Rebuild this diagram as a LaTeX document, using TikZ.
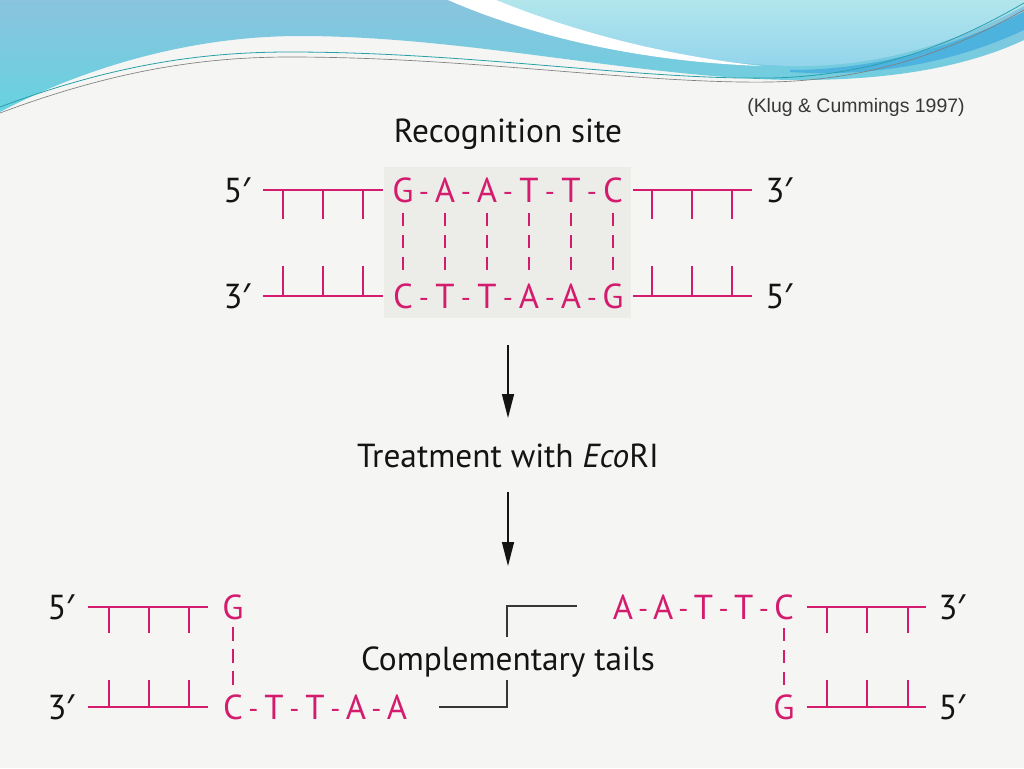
\documentclass[tikz,border=0pt]{standalone}
\usepackage{fontspec}
\setmainfont{PT Sans}
\newfontfamily\primefont{Noto Sans}
\newfontfamily\klugfont{Liberation Sans}
\usetikzlibrary{arrows.meta}
\definecolor{mag}{RGB}{212,28,110}
\definecolor{boxgray}{RGB}{236,236,232}
\definecolor{bgc}{RGB}{245,245,244}
\definecolor{waveA}{RGB}{138,196,222}
\definecolor{waveB}{RGB}{102,210,224}
\definecolor{aquaA}{RGB}{178,230,236}
\definecolor{aquaB}{RGB}{146,212,236}
\definecolor{bandc}{RGB}{78,178,222}
\definecolor{linec}{RGB}{40,160,170}
\definecolor{txt}{RGB}{20,20,20}
\newcommand{\pr}{{\primefont ′}}
\newlength{\basew}
\newcommand{\bs}[1]{\makebox[\basew]{#1}}
\newcommand{\hyp}{\makebox[9.1pt]{\fontsize{21}{21}\selectfont\raisebox{0.6pt}{-}}}
\tikzset{
  seq/.style={font=\fontsize{26}{26}\selectfont, text=mag, inner sep=0pt, text height=18pt, text depth=0pt},
  endlab/.style={font=\fontsize{26}{26}\selectfont, text=txt, inner sep=0pt, text height=18pt, text depth=0pt},
  label/.style={font=\fontsize{25}{25}\selectfont, text=txt, inner sep=0pt, anchor=base},
  strand/.style={draw=mag, line width=1.5pt},
  pair/.style={draw=mag, line width=1.6pt, dash pattern=on 10pt off 6.5pt},
  arr/.style={draw=txt, line width=1.1pt, -{Triangle[length=18pt,width=9pt]}},
  brk/.style={draw=txt!85, line width=0.9pt},
}
\begin{document}
\begin{tikzpicture}[x=0.75pt,y=-0.75pt]
\useasboundingbox (0,0) rectangle (1024,768);
\fill[bgc] (0,0) rectangle (1024,768);

% ---- top wave decoration ----
\shade[top color=waveA, bottom color=waveB]
  (0,0) -- (1024,0) -- (1024,40) .. controls (960,70) and (880,80) .. (800,80)
  .. controls (650,80) and (470,36) .. (300,36)
  .. controls (170,36) and (60,80) .. (0,112) -- cycle;
\shade[top color=aquaA, bottom color=aquaB]
  (492,0) .. controls (580,40) and (680,62) .. (790,66)
  .. controls (890,68) and (970,35) .. (1024,6) -- (1024,0) -- cycle;
\fill[white]
  (448,0) .. controls (540,40) and (650,62) .. (762,66)
  .. controls (660,55) and (570,30) .. (496,0) -- cycle;
\fill[bandc]
  (790,70) .. controls (890,70) and (970,38) .. (1024,12)
  -- (1024,30) .. controls (960,60) and (880,78) .. (790,72) -- cycle;
\draw[linec, line width=0.6pt]
  (0,107) .. controls (120,62) and (210,52) .. (290,52)
  .. controls (470,52) and (640,80) .. (770,78)
  .. controls (880,76) and (960,40) .. (1024,3);
\draw[gray, line width=0.5pt]
  (0,113) .. controls (120,68) and (210,57) .. (290,57)
  .. controls (470,57) and (640,84) .. (770,82)
  .. controls (880,80) and (960,46) .. (1024,10);

% ---- citation ----
\node[font=\klugfont\fontsize{14.6}{14.6}\selectfont, text=txt!85, inner sep=0pt, anchor=base] (cite) at (856,112) {(Klug \& Cummings 1997)};

% ---- recognition site ----
\node[label] (recog) at (508,142) {Recognition site};
\fill[boxgray] (384,167) rectangle (631,318);

\node[endlab] (l5) at (237,190) {5\pr};
\node[endlab] (l3) at (237,296) {3\pr};
\node[endlab] (r3) at (779,190) {3\pr};
\node[endlab] (r5) at (779,296) {5\pr};

\setlength{\basew}{22.4pt}
\node[seq] (toprow) at (508,190) {\bs{G}\hyp\bs{A}\hyp\bs{A}\hyp\bs{T}\hyp\bs{T}\hyp\bs{C}};
\node[seq] (botrow) at (508,296) {\bs{C}\hyp\bs{T}\hyp\bs{T}\hyp\bs{A}\hyp\bs{A}\hyp\bs{G}};
\foreach \i/\x in {1/403,2/445,3/487,4/529,5/571,6/613}{
  \coordinate (pu\i) at (\x,213);
  \coordinate (pd\i) at (\x,274);
  \draw[pair] (pu\i) -- (pd\i);
}
% backbones
\draw[strand] (263,190) -- (383,190);
\draw[strand] (263,296) -- (383,296);
\draw[strand] (633,190) -- (752,190);
\draw[strand] (633,296) -- (752,296);
\foreach \x in {283,323,363,652,692,732}{
  \draw[strand] (\x,190) -- (\x,219);
  \draw[strand] (\x,296) -- (\x,266);
}

% ---- arrows and treatment ----
\coordinate (a1s) at (508,345);
\coordinate (a1e) at (508,418);
\draw[arr] (a1s) -- (a1e);
\node[label] (treat) at (508,467) {Treatment with \textit{Eco}RI};
\coordinate (a2s) at (508,492);
\coordinate (a2e) at (508,566);
\draw[arr] (a2s) -- (a2e);

% ---- products ----
\node[endlab] (pl5) at (61,607) {5\pr};
\node[endlab] (pl3) at (61,707) {3\pr};
\node[seq] (pG) at (233,607) {G};
\setlength{\basew}{21.65pt}
\node[seq] (prow) at (315,707) {\bs{C}\hyp\bs{T}\hyp\bs{T}\hyp\bs{A}\hyp\bs{A}};
\coordinate (pCtop) at (233,688);
\draw[pair, shorten <=6pt] (pG) -- (pCtop);
\draw[strand] (88,607) -- (208,607);
\draw[strand] (88,707) -- (208,707);
\foreach \x in {109,149,189}{
  \draw[strand] (\x,607) -- (\x,633);
  \draw[strand] (\x,707) -- (\x,680);
}

\setlength{\basew}{21.1pt}
\node[seq] (qrow) at (703.5,607) {\bs{A}\hyp\bs{A}\hyp\bs{T}\hyp\bs{T}\hyp\bs{C}};
\node[seq] (qG) at (784,707) {G};
\coordinate (qCbot) at (784,628);
\draw[pair, shorten >=6pt] (qCbot) -- (qG);
\node[endlab] (qr3) at (952,607) {3\pr};
\node[endlab] (qr5) at (952,707) {5\pr};
\draw[strand] (807,607) -- (926,607);
\draw[strand] (807,707) -- (926,707);
\foreach \x in {827,867,908}{
  \draw[strand] (\x,607) -- (\x,633);
  \draw[strand] (\x,707) -- (\x,680);
}

\node[label] (comp) at (508,670) {Complementary tails};
\draw[brk] (439,707) -- (507,707) -- (507,680);
\draw[brk] (507,637) -- (507,606) -- (577,606);
\end{tikzpicture}
\end{document}
